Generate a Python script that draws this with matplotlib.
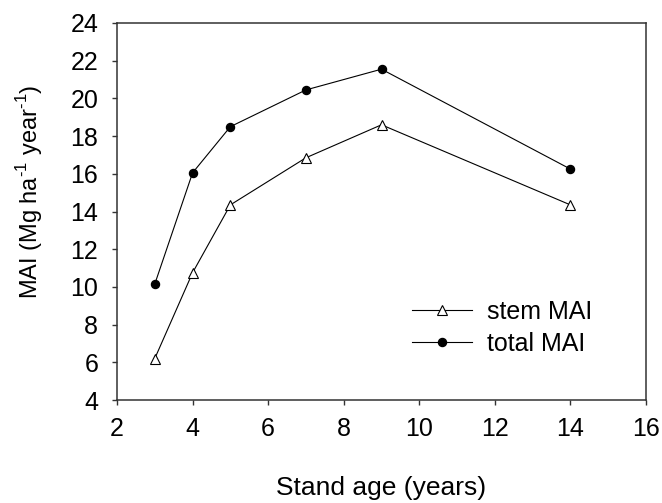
import numpy as np
import matplotlib
matplotlib.use("Agg")
import matplotlib.pyplot as plt

plt.rcParams['font.family'] = ['Liberation Sans', 'DejaVu Sans']
plt.rcParams['mathtext.fontset'] = 'custom'
plt.rcParams['mathtext.rm'] = 'Liberation Sans'

## Data
age = [3, 4, 5, 7, 9, 14]
stem_mai = [6.2, 10.75, 14.35, 16.85, 18.6, 14.35]
total_mai = [10.15, 16.05, 18.5, 20.45, 21.55, 16.25]

FS = 18

fig = plt.figure(figsize=(6.62, 5.03), dpi=100)
ax = fig.add_axes([117/662, 1 - 400/503, (646 - 117)/662, (400 - 23)/503])

ax.plot(age, stem_mai, color='black', lw=0.8, marker='^', ms=6.5,
        mfc='white', mec='black', mew=0.8, label='stem MAI')
ax.plot(age, total_mai, color='black', lw=0.8, marker='o', ms=5.8,
        mfc='black', mec='black', label='total MAI')

ax.set_xlim(2, 16)
ax.set_ylim(4, 24)
ax.set_xticks(np.arange(2, 17, 2))
ax.set_yticks(np.arange(4, 25, 2))
ax.tick_params(direction='out', length=3.5, width=1, labelsize=FS, color='#333333')
ax.tick_params(axis='x', pad=9)
ax.tick_params(axis='y', pad=10)
for s in ax.spines.values():
    s.set_linewidth(1.1)
    s.set_color('#333333')

ax.set_xlabel('Stand age (years)', fontsize=19, labelpad=25)
ax.set_ylabel(r'MAI (Mg ha$^{\text{-}1}$ year$^{\text{-}1}$)', fontsize=17)
ax.yaxis.set_label_coords(-0.136, 0.552)

ax.legend(loc='center left', bbox_to_anchor=(0.539, 0.191), frameon=False,
          borderaxespad=0, fontsize=FS, handlelength=2.4, handletextpad=0.6,
          labelspacing=0.3)

fig.savefig('out.png', dpi=100)
